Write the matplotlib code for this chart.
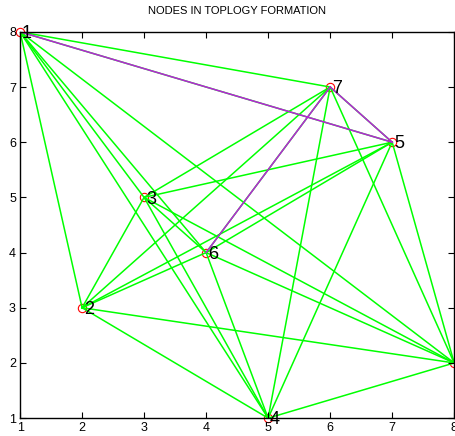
import itertools

import matplotlib.pyplot as plt

plt.rcParams["font.family"] = ["Liberation Sans", "DejaVu Sans"]

# Node positions
node_ids = [1, 2, 3, 4, 5, 6, 7, 8]
node_x = [1, 2, 3, 5, 7, 4, 6, 8]
node_y = [8, 3, 5, 1, 6, 4, 7, 2]

# Highlighted route
route = [1, 5, 7, 6]

fig = plt.figure(figsize=(4.56, 4.36), dpi=100)
ax = fig.add_axes([0.044, 0.041, 0.952, 0.886])

# Every pair of nodes is connected
for a, b in itertools.combinations(range(len(node_ids)), 2):
    ax.plot([node_x[a], node_x[b]], [node_y[a], node_y[b]], color="#00ff00", linewidth=1.1, zorder=1)

for a, b in zip(route[:-1], route[1:]):
    i, j = node_ids.index(a), node_ids.index(b)
    ax.plot([node_x[i], node_x[j]], [node_y[i], node_y[j]], color="#b822d8", linewidth=1.1, zorder=2)

ax.plot(node_x, node_y, "o", markerfacecolor="none", markeredgecolor="red",
        markersize=6, markeredgewidth=0.8, linestyle="none", zorder=0, clip_on=False)

for n, x, y in zip(node_ids, node_x, node_y):
    ax.text(x + 0.03, y - 0.03, str(n), fontsize=13, ha="left", va="center", clip_on=False, zorder=3)

ax.set_xlim(1, 8)
ax.set_ylim(1, 8)
ax.set_xticks(range(1, 9))
ax.set_yticks(range(1, 9))
ax.tick_params(direction="in", top=True, right=True, labelsize=9, length=4, width=0.8, pad=3)
for s in ax.spines.values():
    s.set_linewidth(1.0)
ax.set_title("NODES IN TOPLOGY FORMATION", fontsize=8, pad=13)

fig.savefig("out.png", dpi=100)
